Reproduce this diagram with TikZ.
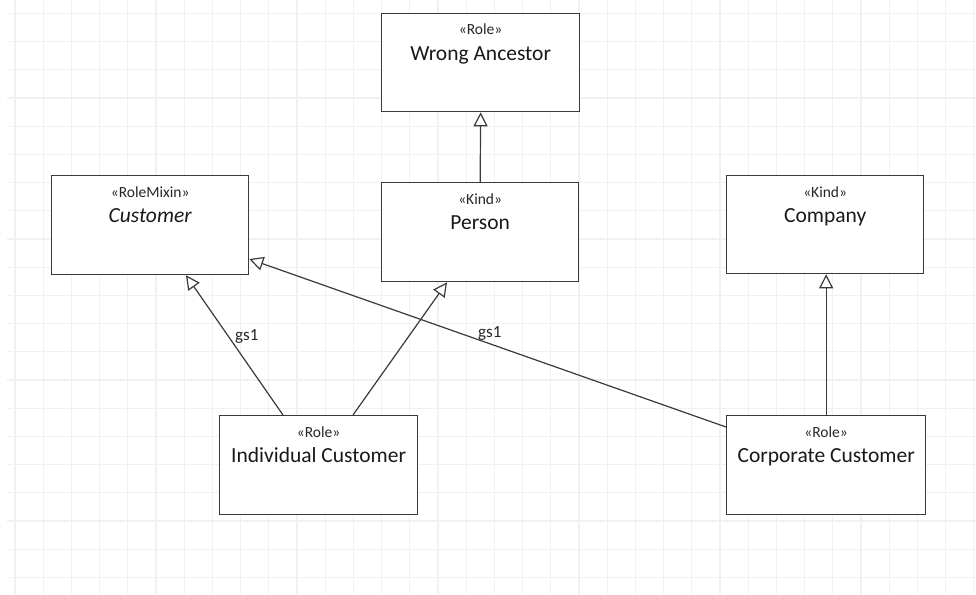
\documentclass[tikz,border=0pt]{standalone}
\usepackage{fontspec}
\setmainfont{Carlito}
\usetikzlibrary{arrows.meta,calc}
\definecolor{gridc}{HTML}{F1F1F1}
\definecolor{linec}{HTML}{3A3A3A}
\begin{document}
\begin{tikzpicture}[x=1pt,y=-1pt,
  umlbox/.style={draw=linec,line width=1.3pt,fill=white,anchor=north west,inner sep=0pt,minimum width=#1},
  stereo/.style={anchor=base,font=\fontsize{15.5}{17}\selectfont,text=black!85,inner sep=0pt},
  cname/.style={anchor=base,font=\fontsize{21.5}{24}\selectfont,text=black!90,inner sep=0pt},
  glabel/.style={anchor=base west,font=\fontsize{17}{19}\selectfont,text=black!85,inner sep=0pt},
  gen/.style={draw=linec,line width=1.2pt,-{Triangle[open,fill=white,length=14pt,width=14pt]}}]
\fill[white] (0,0) rectangle (976,594);
\useasboundingbox (0,0) rectangle (976,594);
\foreach \k in {0,...,34} {\draw[gridc,line width=1.2pt] ({15+28.2*\k},0) -- ({15+28.2*\k},594);}
\foreach \k in {0,...,20} {\draw[gridc,line width=1.2pt] (7,{13.3+28.2*\k}) -- (976,{13.3+28.2*\k});}
% boxes
\node[umlbox=198pt,minimum height=98pt] (wa) at (381,13) {};
\node[umlbox=197pt,minimum height=99pt] (per) at (381,182) {};
\node[umlbox=197pt,minimum height=99pt] (cus) at (51,175) {};
\node[umlbox=197pt,minimum height=98pt] (com) at (726,175) {};
\node[umlbox=198pt,minimum height=99pt] (ind) at (219,415) {};
\node[umlbox=199pt,minimum height=99pt] (corp) at (726,415) {};
% texts
\node[stereo] (wa-s) at ($(wa.north)+(0,22)$) {«Role»};
\node[cname] (wa-n) at ($(wa.north)+(0,47)$) {Wrong Ancestor};
\node[stereo] (per-s) at ($(per.north)+(0,22)$) {«Kind»};
\node[cname] (per-n) at ($(per.north)+(0,47)$) {Person};
\node[stereo] (cus-s) at ($(cus.north)+(0,22)$) {«RoleMixin»};
\node[cname] (cus-n) at ($(cus.north)+(0,47)$) {\itshape Customer};
\node[stereo] (com-s) at ($(com.north)+(0,22)$) {«Kind»};
\node[cname] (com-n) at ($(com.north)+(0,47)$) {Company};
\node[stereo] (ind-s) at ($(ind.north)+(0,22)$) {«Role»};
\node[cname] (ind-n) at ($(ind.north)+(0,47)$) {Individual Customer};
\node[stereo] (corp-s) at ($(corp.north)+(0,22)$) {«Role»};
\node[cname] (corp-n) at ($(corp.north)+(0,47)$) {Corporate Customer};
% connector endpoints
\coordinate (ind-a) at ($(ind.north west)+(64,0)$);
\coordinate (ind-b) at ($(ind.north west)+(134,0)$);
\coordinate (cus-a) at ($(cus.south west)+(135,0)$);
\coordinate (per-a) at ($(per.south west)+(66,0)$);
\coordinate (corp-a) at ($(corp.north west)+(0,12)$);
\coordinate (cus-b) at ($(cus.north east)+(0,84)$);
% connectors
\draw[gen] (per.north) -- (wa.south);
\draw[gen] (ind-a) -- (cus-a);
\draw[gen] (ind-b) -- (per-a);
\draw[gen] (corp-a) -- (cus-b);
\draw[gen] (corp.north) -- (corp.north |- com.south);
% labels
\node[glabel] (g1) at (235,340) {gs1};
\node[glabel] (g2) at (478,337) {gs1};
\end{tikzpicture}
\end{document}
